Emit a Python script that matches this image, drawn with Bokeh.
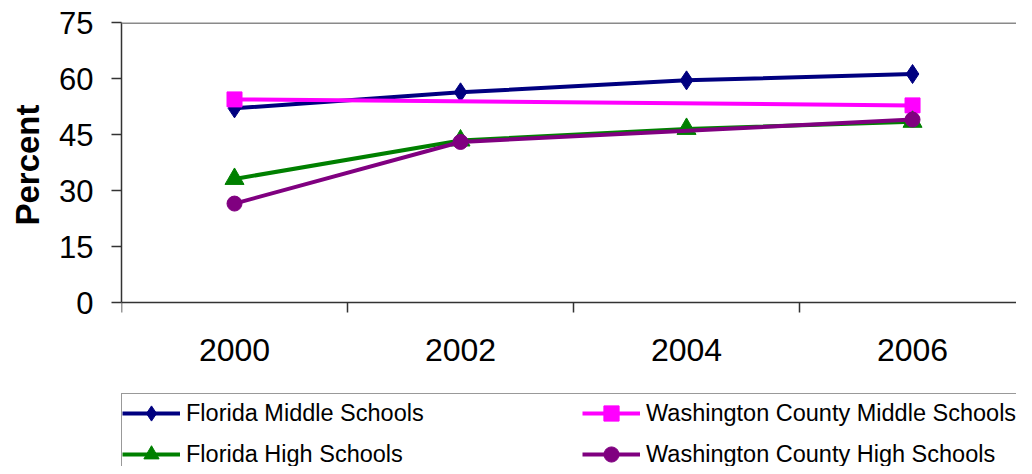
from bokeh.plotting import figure
from bokeh.models import Range1d, FixedTicker, Span, Legend, LegendItem, Title
from bokeh.embed import file_html
from bokeh.resources import INLINE

# ---- data ----
years = ["2000", "2002", "2004", "2006"]
y_ticks = [0, 15, 30, 45, 60, 75]
fl_middle = [52.0, 56.3, 59.5, 61.2]
wc_middle = [54.4, None, None, 52.8]
fl_high = [33.1, 43.4, 46.5, 48.4]
wc_high = [26.5, 43.0, None, 49.0]

names = ["Florida Middle Schools", "Washington County Middle Schools",
         "Florida High Schools", "Washington County High Schools"]
values = [fl_middle, wc_middle, fl_high, wc_high]
colors = ["#000080", "#FF00FF", "#008000", "#800080"]
markers = ["diamond", "square", "triangle", "circle"]
sizes = [19, 15, 19, 15]

FONT = "Liberation Sans"

# layout geometry (pixels)
W, H = 1016, 466
TOP = 22
PLOT_H = 280            # height of the 0..75 band
Y_MAX = y_ticks[-1]
y_start = Y_MAX - Y_MAX * (H - TOP) / PLOT_H   # room below 0 for axis labels + legend

p = figure(width=W, height=H, output_backend="svg", toolbar_location=None,
           x_range=Range1d(0, 3.96), y_range=Range1d(y_start, Y_MAX),
           min_border_left=0, min_border_top=TOP, min_border_bottom=0,
           min_border_right=0)
p.background_fill_color = "white"
p.border_fill_color = "white"
p.outline_line_color = None
p.xgrid.visible = False
p.ygrid.visible = False

# x axis: labels at category centres, ticks at category boundaries
centres = [i + 0.5 for i in range(len(years))]
xa = p.xaxis[0]
xa.fixed_location = 0
xa.ticker = FixedTicker(ticks=centres, minor_ticks=list(range(len(years) + 1)))
xa.major_label_overrides = {c: y for c, y in zip(centres, years)}
xa.major_tick_out = 0
xa.major_tick_in = 0
xa.minor_tick_out = 10
xa.minor_tick_in = 0
xa.minor_tick_line_color = "#333333"
xa.minor_tick_line_width = 1.5
xa.axis_line_color = "#333333"
xa.axis_line_width = 1.5
xa.major_label_text_font = FONT
xa.major_label_text_font_size = "32px"
xa.major_label_text_color = "black"
xa.major_label_standoff = 26

ya = p.yaxis[0]
ya.bounds = (0, Y_MAX)
ya.ticker = FixedTicker(ticks=y_ticks, minor_ticks=[])
ya.major_tick_out = 10
ya.major_tick_in = 0
ya.major_tick_line_color = "#333333"
ya.major_tick_line_width = 1.5
ya.axis_line_color = "#333333"
ya.axis_line_width = 1.5
ya.major_label_text_font = FONT
ya.major_label_text_font_size = "31px"
ya.major_label_text_color = "black"
ya.major_label_standoff = 18

# y-axis title, placed beside the 0..75 band
p.add_layout(Title(text="Percent", align="right", offset=82, vertical_align="top",
                   standoff=17, text_font=FONT, text_font_size="33px",
                   text_font_style="bold", text_color="black"), "left")

p.add_layout(Span(location=Y_MAX, dimension="width", line_color="#8a8a8a", line_width=3))

items = []
for name, vals, col, mk, sz in zip(names, values, colors, markers, sizes):
    xs = [c for c, v in zip(centres, vals) if v is not None]
    ys = [v for v in vals if v is not None]
    ln = p.line(xs, ys, line_color=col, line_width=4)
    sc = p.scatter(xs, ys, marker=mk, size=sz,
                   fill_color=col, line_color=col, line_width=1)
    items.append(LegendItem(label=name, renderers=[ln, sc]))

legend = Legend(items=items, location=(0, -8), orientation="horizontal", nrows=2,
                label_text_font=FONT, label_text_font_size="23.5px",
                label_text_color="black",
                glyph_width=58, glyph_height=38, label_height=38,
                label_width=393, label_standoff=6, spacing=3, padding=0,
                margin=0, border_line_color="#333333", border_line_width=1.5,
                background_fill_color="white", background_fill_alpha=1.0)
p.add_layout(legend, "center")

open("out.html", "w").write(file_html(p, INLINE))
